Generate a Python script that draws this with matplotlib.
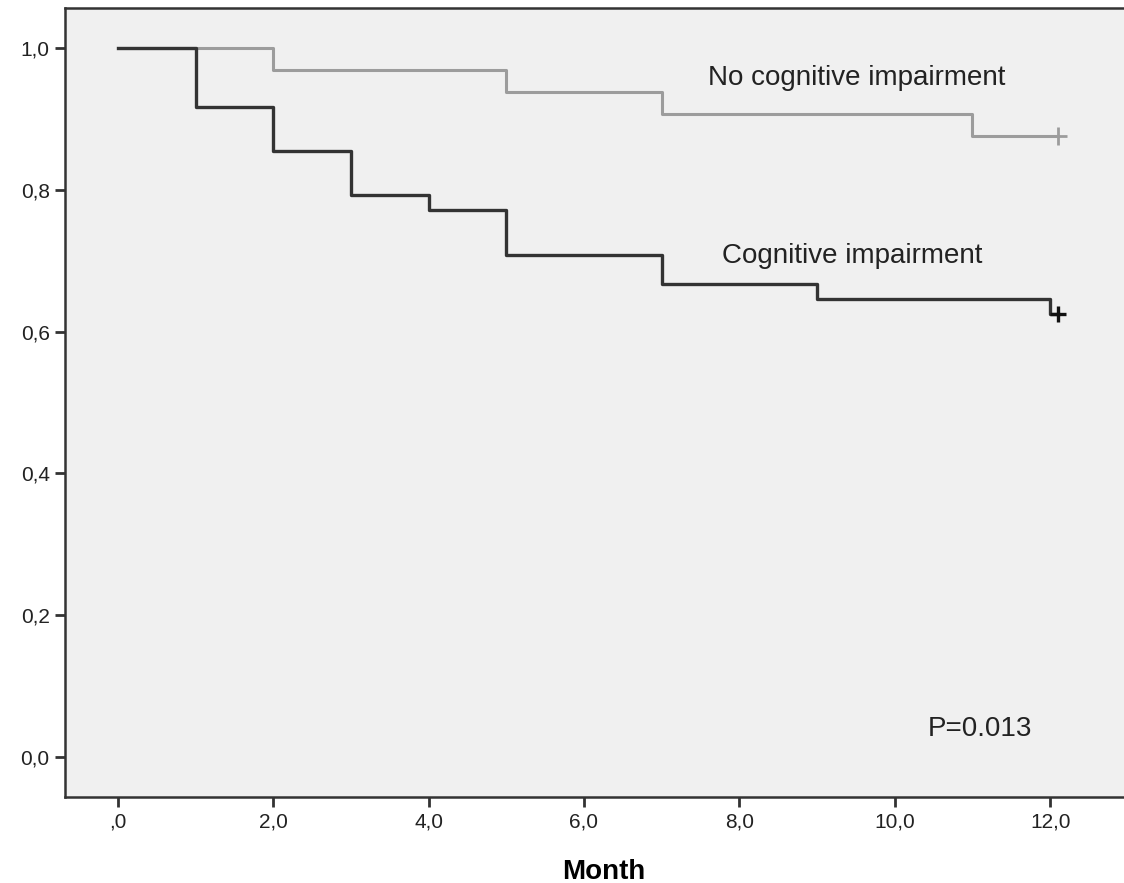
import matplotlib.pyplot as plt
import numpy as np

plt.rcParams['font.family'] = ['Liberation Sans', 'DejaVu Sans']

# Kaplan-Meier step data (time in months, survival)
no_ci_time = [0, 2, 5, 7, 11, 12.1]
no_ci_surv = [1.0, 0.969, 0.938, 0.906, 0.875, 0.875]
ci_time = [0, 1, 2, 3, 4, 5, 7, 9, 12, 12.1]
ci_surv = [1.0, 0.917, 0.854, 0.792, 0.771, 0.708, 0.667, 0.646, 0.625, 0.625]
censor_no_ci = (12.1, 0.875)
censor_ci = (12.1, 0.625)

x_ticks = [0, 2, 4, 6, 8, 10, 12]
x_labels = [",0", "2,0", "4,0", "6,0", "8,0", "10,0", "12,0"]
y_ticks = [0.0, 0.2, 0.4, 0.6, 0.8, 1.0]
y_labels = ["0,0", "0,2", "0,4", "0,6", "0,8", "1,0"]

fig = plt.figure(figsize=(11.24, 8.83), dpi=100)
ax = fig.add_axes([0.0578, 0.0974, 0.9422, 0.8935])
ax.set_facecolor("#f0f0f0")

ax.step(no_ci_time, no_ci_surv, where="post", color="#9c9c9c", lw=2.2)
ax.step(ci_time, ci_surv, where="post", color="#333333", lw=2.4)
ax.plot(*censor_no_ci, marker="+", ms=13, mew=2, color="#9c9c9c")
ax.plot(*censor_ci, marker="+", ms=11, mew=2.4, color="#111111")

ax.text(7.6, 0.958, "No cognitive impairment", fontsize=20, color="#222222", va="center")
ax.text(7.77, 0.706, "Cognitive impairment", fontsize=20, color="#222222", va="center")
ax.text(10.42, 0.04, "P=0.013", fontsize=20, color="#222222", va="center")

ax.set_xlim(-0.68, 12.95)
ax.set_ylim(-0.056, 1.056)
ax.set_xticks(x_ticks)
ax.set_xticklabels(x_labels)
ax.set_yticks(y_ticks)
ax.set_yticklabels(y_labels)
ax.tick_params(direction="out", length=7, width=2, color="#333333",
               labelsize=15, labelcolor="#222222", pad=4)
for s in ["left", "top", "bottom"]:
    ax.spines[s].set_color("#333333")
    ax.spines[s].set_linewidth(1.8)
ax.spines["right"].set_visible(False)

ax.set_xlabel("Month", fontsize=20, fontweight="bold")
ax.xaxis.set_label_coords(0.509, -0.078)

fig.savefig("out.png", dpi=100)
